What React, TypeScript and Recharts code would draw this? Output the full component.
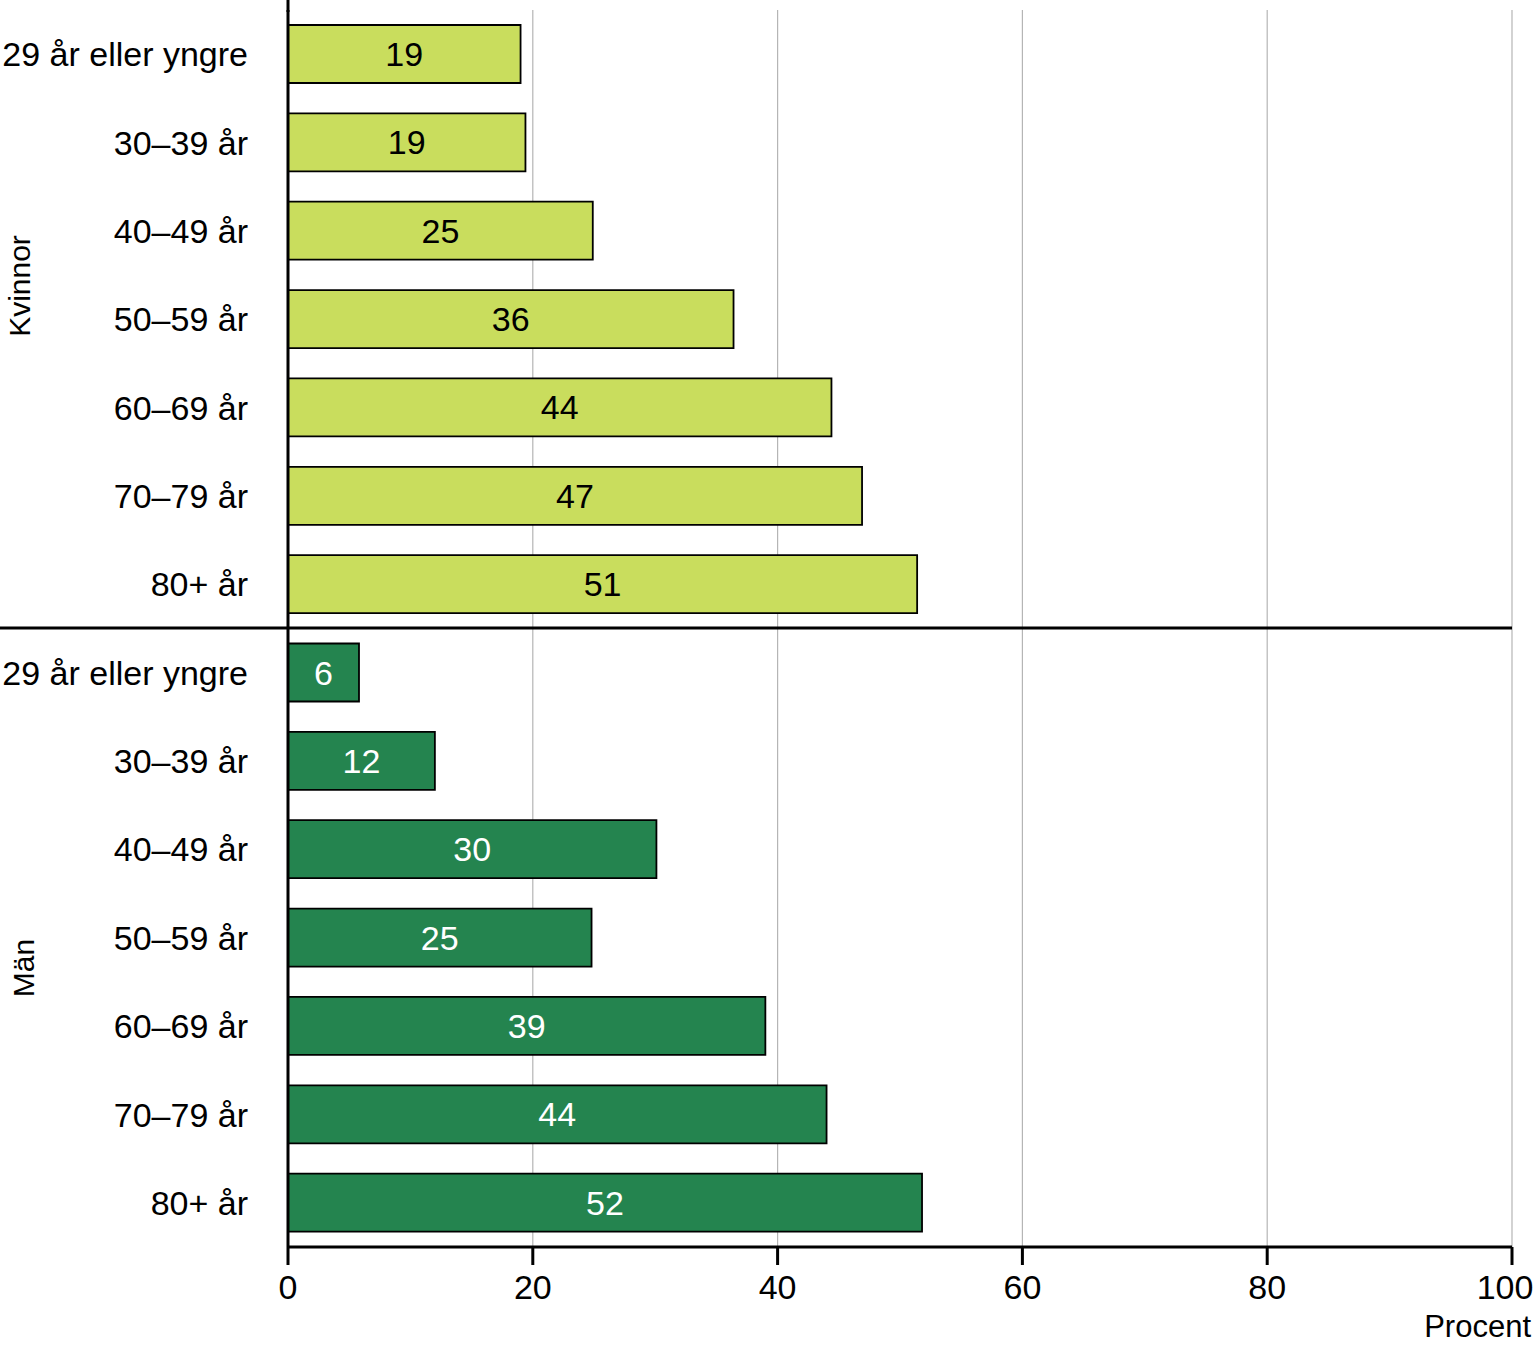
import React from "react";
import {
  BarChart,
  Bar,
  XAxis,
  YAxis,
  CartesianGrid,
  LabelList,
} from "recharts";

const ageGroups = ["29 år eller yngre", "30–39 år", "40–49 år", "50–59 år", "60–69 år", "70–79 år", "80+ år"];
const kvinnor = [19.0, 19.4, 24.9, 36.4, 44.4, 46.9, 51.4];
const man = [5.8, 12.0, 30.1, 24.8, 39.0, 44.0, 51.8];
const xTicks = [0, 20, 40, 60, 80, 100];

const LIGHT = "#c9dd5d";
const DARK = "#24844f";
const FONT = "'Liberation Sans', Arial, sans-serif";

// one row per bar, women first, then men
const rows = [
  ...ageGroups.map((g, i) => ({ id: `k${i}`, label: g, kvinnor: kvinnor[i], man: null })),
  ...ageGroups.map((g, i) => ({ id: `m${i}`, label: g, kvinnor: null, man: man[i] })),
];
const labelById: Record<string, string> = {};
rows.forEach((r) => (labelById[r.id] = r.label));

// x tick; the last one is nudged left so it stays inside the picture
const XTick = (props: any) => {
  const { x, y, payload } = props;
  const last = payload.value === xTicks[xTicks.length - 1];
  return (
    <text
      x={last ? x - 7 : x}
      y={y}
      dy="0.71em"
      textAnchor="middle"
      fontSize={34}
      fontFamily={FONT}
      fill="#000"
    >
      {payload.value}
    </text>
  );
};

export default function App() {
  return (
    <div style={{ position: "absolute", left: 0, top: 0, width: 1537, height: 1348, fontFamily: FONT }}>
      <BarChart
        width={1537}
        height={1348}
        data={rows}
        layout="vertical"
        margin={{ top: 10, right: 25, bottom: 0, left: 0 }}
        barSize={58}
      >
        <CartesianGrid horizontal={false} stroke="#b5b5b5" strokeWidth={1.2} />
        <XAxis
          type="number"
          domain={[0, 100]}
          ticks={xTicks}
          height={101}
          axisLine={{ stroke: "#000", strokeWidth: 3 }}
          tickLine={{ stroke: "#000", strokeWidth: 3 }}
          tickSize={18}
          tickMargin={10}
          tick={<XTick />}
        />
        <YAxis
          type="category"
          dataKey="id"
          width={288}
          tickFormatter={(v: string) => labelById[v]}
          axisLine={{ stroke: "#000", strokeWidth: 3 }}
          tickLine={false}
          tickSize={0}
          tickMargin={40}
          interval={0}
          tick={{ fill: "#000", fontSize: 34, fontFamily: FONT }}
        />
        <Bar dataKey="kvinnor" stackId="a" fill={LIGHT} stroke="#000" strokeWidth={1.8} isAnimationActive={false}>
          <LabelList
            dataKey="kvinnor"
            position="center"
            formatter={(v: any) => (v == null ? "" : Math.round(v))}
            fill="#000"
            fontSize={34}
            fontFamily={FONT}
          />
        </Bar>
        <Bar dataKey="man" stackId="a" fill={DARK} stroke="#000" strokeWidth={1.8} isAnimationActive={false}>
          <LabelList
            dataKey="man"
            position="center"
            formatter={(v: any) => (v == null ? "" : Math.round(v))}
            fill="#fff"
            fontSize={34}
            fontFamily={FONT}
          />
        </Bar>
      </BarChart>
      <svg
        width={1537}
        height={1348}
        style={{ position: "absolute", left: 0, top: 0, pointerEvents: "none" }}
      >
        <line x1={288} x2={288} y1={0} y2={12} stroke="#000" strokeWidth={3} />
        <line x1={0} x2={1512} y1={628} y2={628} stroke="#000" strokeWidth={3} />
        <text
          transform="translate(30,286) rotate(-90)"
          textAnchor="middle"
          fontSize={30}
          fontFamily={FONT}
          fill="#000"
        >
          Kvinnor
        </text>
        <text
          transform="translate(34,968) rotate(-90)"
          textAnchor="middle"
          fontSize={30}
          fontFamily={FONT}
          fill="#000"
        >
          Män
        </text>
        <text x={1531} y={1337} textAnchor="end" fontSize={31} fontFamily={FONT} fill="#000">
          Procent
        </text>
      </svg>
    </div>
  );
}
